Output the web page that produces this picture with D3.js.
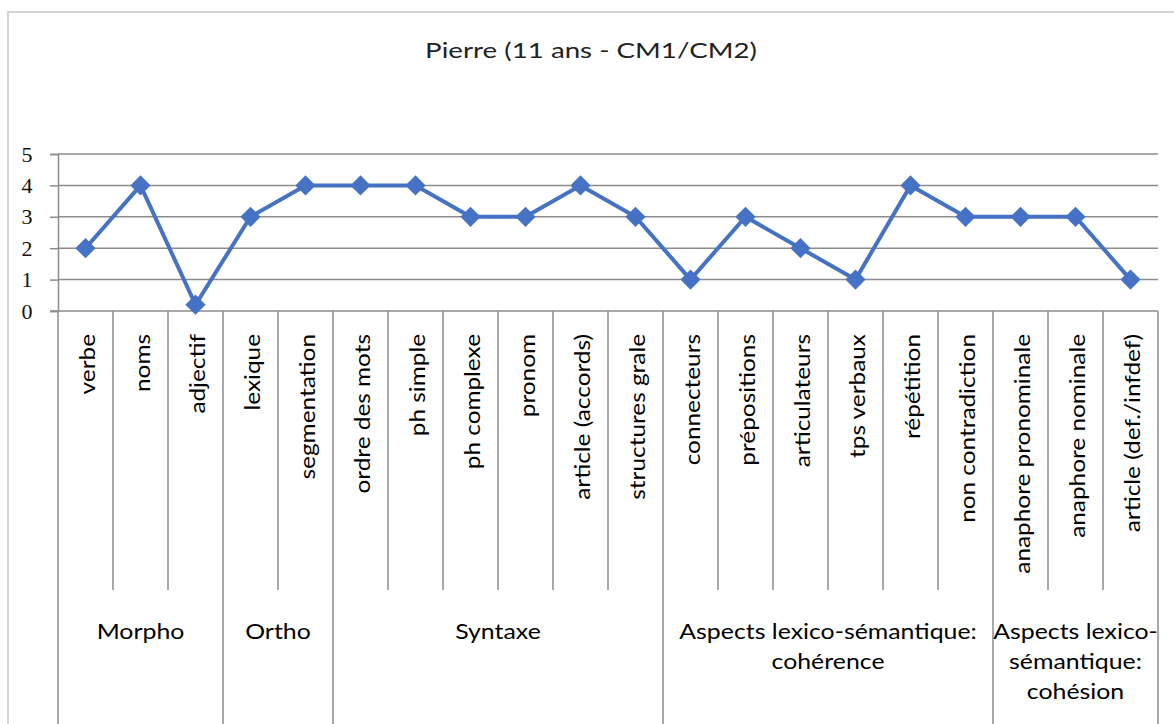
<!DOCTYPE html>
<html>
<head>
<meta charset="utf-8">
<script src="https://cdn.jsdelivr.net/npm/d3@7"></script>
<style>
  body { margin: 0; background: #fff; }
  text { font-family: Lato, "Open Sans", sans-serif; fill: #000; }
</style>
</head>
<body>
<div id="chart"></div>
<script>
'use strict';

// --- Data
var categories = ['verbe', 'noms', 'adjectif', 'lexique', 'segmentation', 'ordre des mots',
  'ph simple', 'ph complexe', 'pronom', 'article (accords)', 'structures grale', 'connecteurs',
  'prépositions', 'articulateurs', 'tps verbaux', 'répétition', 'non contradiction',
  'anaphore pronominale', 'anaphore nominale', 'article (def./infdef)'];
var values = [2, 4, 0.2, 3, 4, 4, 4, 3, 3, 4, 3, 1, 3, 2, 1, 4, 3, 3, 3, 1];
var groupNames = [['Morpho'], ['Ortho'], ['Syntaxe'],
  ['Aspects lexico-sémantique:', 'cohérence'], ['Aspects lexico-', 'sémantique:', 'cohésion']];
var groupSizes = [3, 2, 6, 6, 3];
var yTicks = [0, 1, 2, 3, 4, 5];
var title = 'Pierre (11 ans - CM1/CM2)';

var width = 1174, height = 724;
var plotLeft = 58, plotRight = 1158, plotTop = 154, plotBottom = 311;
var gridColor = '#8c8c8c';
var blue = '#4572c4';

var svg = d3.select('#chart').append('svg')
  .attr('width', width)
  .attr('height', height);

// --- Chart frame
svg.append('rect')
  .attr('x', 8).attr('y', 12)
  .attr('width', 1180).attr('height', 730)
  .attr('fill', 'none')
  .attr('stroke', '#d4d4d4')
  .attr('stroke-width', 2);

// text in the original is a bit wider than Lato, hence the x stretch
svg.append('text')
  .attr('transform', 'translate(591,58) scale(1.26,1)')
  .attr('text-anchor', 'middle')
  .style('font-size', '22px')
  .style('fill', '#222')
  .text(title);

var x = d3.scaleBand().domain(categories).range([plotLeft, plotRight]).padding(0);
var y = d3.scaleLinear().domain([0, 5]).range([plotBottom, plotTop]);

// --- Gridlines + y axis
var yAxis = d3.axisLeft(y).tickValues(yTicks).tickSize(8).tickFormat(d3.format('d'));
var yg = svg.append('g').attr('transform', 'translate(' + plotLeft + ',0)').call(yAxis);
yg.select('.domain').attr('stroke', gridColor).attr('stroke-width', 1.5);
yg.selectAll('.tick line').attr('stroke', gridColor).attr('stroke-width', 1.5);
yg.selectAll('.tick text')
  .attr('x', -31)
  .attr('text-anchor', 'middle')
  .style('font-size', '22px')
  .style('fill', '#111')
  .style('font-family', '"Liberation Serif", serif');

svg.append('g').selectAll('line')
  .data(yTicks.filter(function(d) { return d > 0; }))
  .enter().append('line')
  .attr('x1', plotLeft).attr('x2', plotRight)
  .attr('y1', function(d) { return y(d); })
  .attr('y2', function(d) { return y(d); })
  .attr('stroke', gridColor).attr('stroke-width', 1.5);

svg.append('line')
  .attr('x1', plotLeft - 8).attr('x2', plotRight)
  .attr('y1', y(0)).attr('y2', y(0))
  .attr('stroke', gridColor).attr('stroke-width', 1.5);

// --- Category separators (group boundaries reach the bottom)
var groupBounds = [0];
groupSizes.forEach(function(s) { groupBounds.push(groupBounds[groupBounds.length - 1] + s); });
var bounds = d3.range(categories.length + 1);
svg.append('g').selectAll('line')
  .data(bounds)
  .enter().append('line')
  .attr('x1', function(i) { return plotLeft + i * x.bandwidth(); })
  .attr('x2', function(i) { return plotLeft + i * x.bandwidth(); })
  .attr('y1', y(0))
  .attr('y2', function(i) { return groupBounds.indexOf(i) >= 0 ? height : 590; })
  .attr('stroke', gridColor).attr('stroke-width', 1.5);

// --- Category labels
svg.append('g').selectAll('text')
  .data(categories)
  .enter().append('text')
  .attr('transform', function(d) {
    return 'translate(' + (x(d) + x.bandwidth() / 2 + 2) + ',334) rotate(-90) scale(1.16,1)';
  })
  .attr('text-anchor', 'end')
  .attr('dy', '0.35em')
  .style('font-size', '21px')
  .text(function(d) { return d; });

// --- Group labels
svg.append('g').selectAll('text')
  .data(groupNames)
  .enter().append('text')
  .attr('text-anchor', 'middle')
  .attr('transform', function(d, i) {
    var a = plotLeft + groupBounds[i] * x.bandwidth();
    var b = plotLeft + groupBounds[i + 1] * x.bandwidth();
    return 'translate(' + ((a + b) / 2) + ',639) scale(1.13,1)';
  })
  .style('font-size', '22px')
  .each(function(lines) {
    var t = d3.select(this);
    lines.forEach(function(l, j) {
      t.append('tspan').attr('x', 0).attr('dy', j === 0 ? 0 : 30).text(l);
    });
  });

// --- Series line + diamonds
var line = d3.line()
  .x(function(d, i) { return x(categories[i]) + x.bandwidth() / 2; })
  .y(function(d) { return y(d); });

svg.append('path')
  .datum(values)
  .attr('d', line)
  .attr('fill', 'none')
  .attr('stroke', blue)
  .attr('stroke-width', 4)
  .attr('stroke-linejoin', 'round');

svg.append('g').selectAll('path')
  .data(values)
  .enter().append('path')
  .attr('d', d3.symbol().type(d3.symbolDiamond2).size(260))
  .attr('transform', function(d, i) {
    return 'translate(' + (x(categories[i]) + x.bandwidth() / 2) + ',' + y(d) + ')';
  })
  .attr('fill', blue);
</script>
</body>
</html>
